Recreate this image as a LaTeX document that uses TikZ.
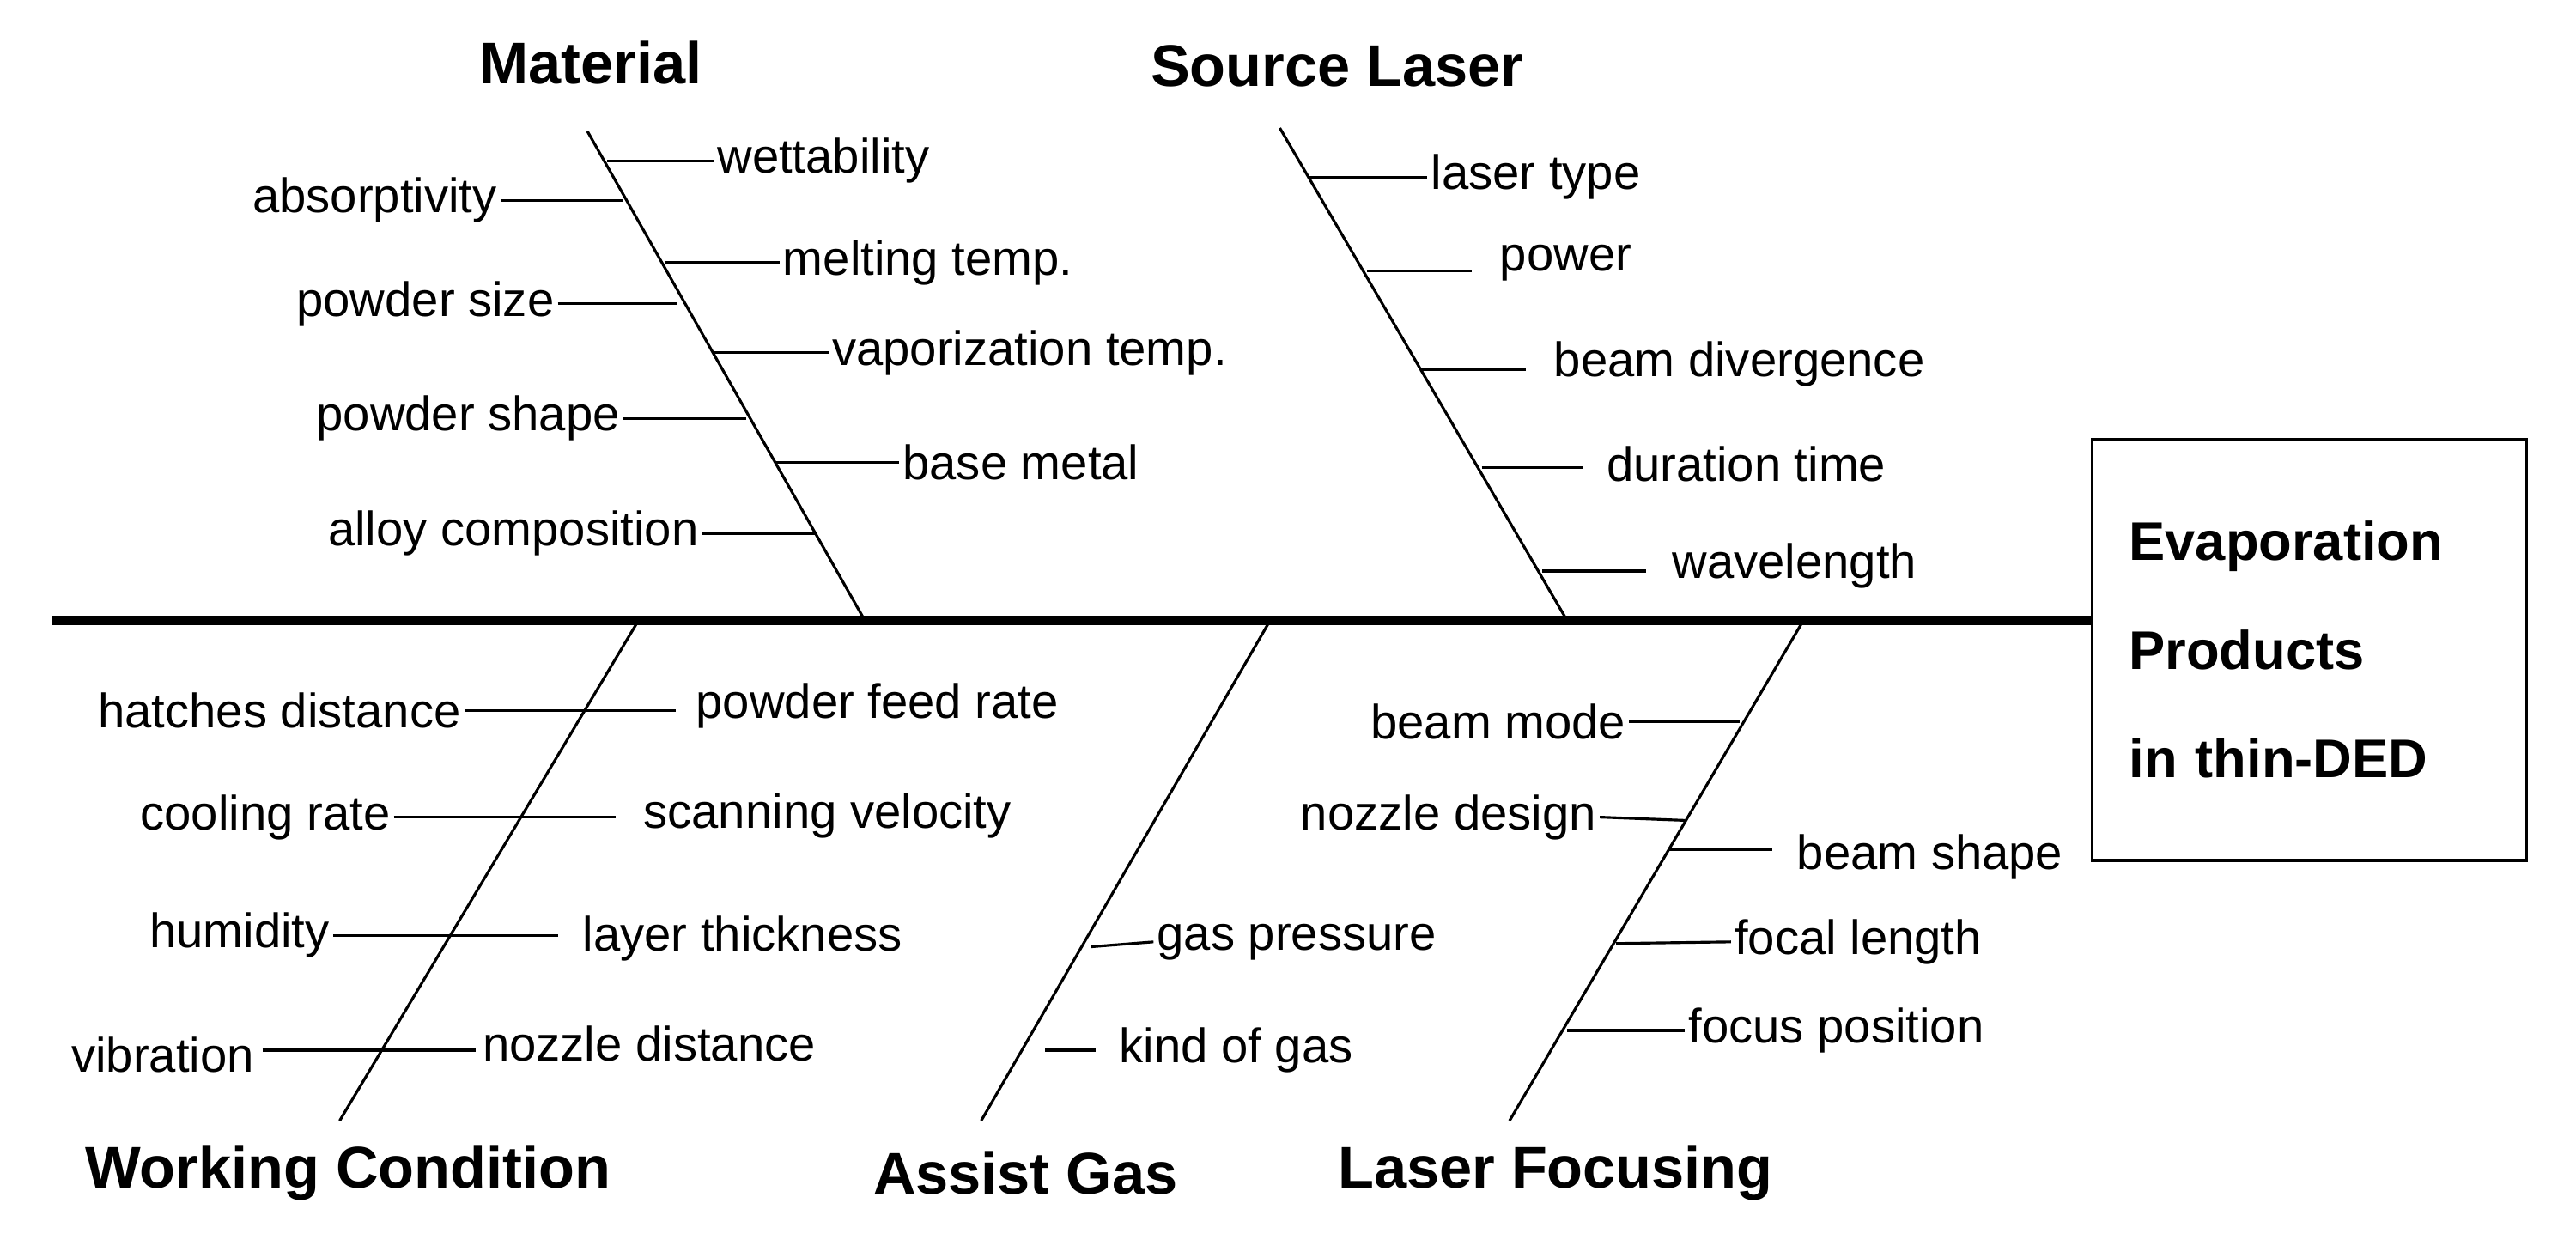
\documentclass[tikz,border=0pt]{standalone}
\usepackage{fontspec}
\setmainfont{Liberation Sans}
\begin{document}
\begin{tikzpicture}[x=0.0191cm,y=-0.0191cm,
 lab/.style={font=\fontsize{16}{19}\selectfont,inner sep=1pt},
 ttl/.style={font=\bfseries\fontsize{19.5}{22}\selectfont},
 br/.style={line width=0.9pt},
 tk/.style={line width=0.9pt}]
\useasboundingbox (0,0) rectangle (1570,759);
% spine
\coordinate (s0) at (32,378); \coordinate (s1) at (1275,378);
\draw[line width=3pt] (s0) -- (s1);
\node[draw,line width=1pt,minimum width=5.06cm,minimum height=4.9cm,text width=4.2cm,align=left,font=\bfseries\fontsize{18}{36}\selectfont,inner sep=0pt] (eff) at (1407.5,396) {Evaporation\\Products\\in thin-DED};
% branches
\coordinate (m0) at (358,80); \coordinate (m1) at (527,378);
\coordinate (l0) at (780,78); \coordinate (l1) at (955,378);
\coordinate (w0) at (388,380); \coordinate (w1) at (207,683);
\coordinate (g0) at (773,380); \coordinate (g1) at (598,683);
\coordinate (f0) at (1098,380); \coordinate (f1) at (920,683);
\foreach \a/\b in {m0/m1,l0/l1,w0/w1,g0/g1,f0/f1} \draw[br] (\a) -- (\b);
\node[ttl] (tm) at (360,38) {Material};
\node[ttl] (tl) at (815,40) {Source Laser};
\node[ttl] (tw) at (212,715) {Working Condition};
\node[ttl] (tg) at (625,715) {Assist Gas};
\node[ttl] (tf) at (948,715) {Laser Focusing};
% Material
\node[lab,anchor=west] (a1) at (435,98) {wettability}; \draw[tk] (370,98) -- (a1.west);
\node[lab,anchor=east] (a2) at (305,122) {absorptivity}; \draw[tk] (a2.east) -- (380,122);
\node[lab,anchor=west] (a3) at (475,160) {melting temp.}; \draw[tk] (405,160) -- (a3.west);
\node[lab,anchor=east] (a4) at (340,185) {powder size}; \draw[tk] (a4.east) -- (413,185);
\node[lab,anchor=west] (a5) at (505,215) {vaporization temp.}; \draw[tk] (435,215) -- (a5.west);
\node[lab,anchor=east] (a6) at (380,255) {powder shape}; \draw[tk] (a6.east) -- (455,255);
\node[lab,anchor=west] (a7) at (548,282) {base metal}; \draw[tk] (472,282) -- (a7.west);
\node[lab,anchor=east] (a8) at (428,325) {alloy composition}; \draw[tk] (a8.east) -- (497,325);
% Source laser
\node[lab,anchor=west] (b1) at (870,108) {laser type}; \draw[tk] (797,108) -- (b1.west);
\node[lab,anchor=west] (b2) at (912,160) {power}; \draw[tk] (833,165) -- (897,165);
\node[lab,anchor=west] (b3) at (945,222) {beam divergence}; \draw[tk] (866,225) -- (930,225);
\node[lab,anchor=west] (b4) at (977,283) {duration time}; \draw[tk] (903,285) -- (965,285);
\node[lab,anchor=west] (b5) at (1017,345) {wavelength}; \draw[tk] (940,348) -- (1003,348);
% Working condition
\node[lab,anchor=east] (c1) at (283,433) {hatches distance};
\node[lab,anchor=west] (c2) at (422,430) {powder feed rate}; \draw[tk] (c1.east) -- (412,433);
\node[lab,anchor=east] (c3) at (240,498) {cooling rate};
\node[lab,anchor=west] (c4) at (390,497) {scanning velocity}; \draw[tk] (c3.east) -- (375,498);
\node[lab,anchor=east] (c5) at (203,570) {humidity};
\node[lab,anchor=west] (c6) at (353,572) {layer thickness}; \draw[tk] (c5.east) -- (340,570);
\node[lab,anchor=east] (c7) at (157,643) {vibration};
\node[lab,anchor=west] (c8) at (292,636) {nozzle distance}; \draw[tk] (160,640) -- (290,640);
% Assist gas
\node[lab,anchor=west] (d1) at (703,574) {gas pressure}; \draw[tk] (665,577) -- (d1.west);
\node[lab,anchor=west] (d2) at (680,640) {kind of gas}; \draw[tk] (637,640) -- (668,640);
% Laser focusing
\node[lab,anchor=east] (e1) at (993,440) {beam mode}; \draw[tk] (e1.east) -- (1060,440);
\node[lab,anchor=east] (e2) at (975,498) {nozzle design}; \draw[tk] (e2.east) -- (1027,500);
\node[lab,anchor=west] (e3) at (1093,522) {beam shape}; \draw[tk] (1017,518) -- (1080,518);
\node[lab,anchor=west] (e4) at (1055,574) {focal length}; \draw[tk] (985,575) -- (e4.west);
\node[lab,anchor=west] (e5) at (1027,628) {focus position}; \draw[tk] (955,628) -- (e5.west);
\end{tikzpicture}
\end{document}
